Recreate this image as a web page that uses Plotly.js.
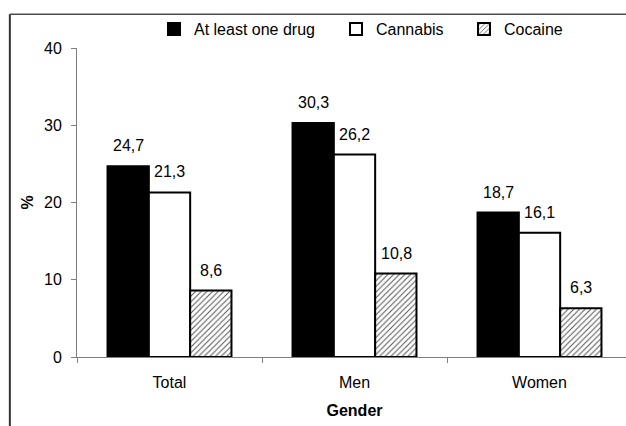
<!DOCTYPE html>
<html>
<head>
<meta charset="utf-8">
<script src="https://cdn.plot.ly/plotly-3.0.1.min.js"></script>
<style>
html,body{margin:0;padding:0;overflow:hidden;background:#fff;}
#chart{width:660px;height:426px;}
</style>
</head>
<body>
<div id="chart"></div>
<script>
var categories = ["Total", "Men", "Women"];
var seriesNames = ["At least one drug", "Cannabis", "Cocaine"];
var atLeastOne = [24.7, 30.3, 18.7];
var cannabis = [21.3, 26.2, 16.1];
var cocaine = [8.6, 10.8, 6.3];
var yTicks = [0, 10, 20, 30, 40];

var FONT = "Liberation Sans, Arial, sans-serif";
var values = [atLeastOne, cannabis, cocaine];
var fills = ["#000000", "#ffffff", "#ffffff"];
var legendIds = ["legend", "legend2", "legend3"];

var traces = values.map(function (v, i) {
  var m = {color: fills[i], line: {color: "#000000", width: 2}};
  if (i === 2) {
    m.pattern = {shape: "/", fgcolor: "#555555", bgcolor: "#ffffff", size: 4, solidity: 0.25, fillmode: "replace"};
  }
  return {
    type: "bar",
    name: seriesNames[i],
    x: categories,
    y: v,
    marker: m,
    legend: legendIds[i],
    hoverinfo: "skip"
  };
});

var shiftPx = [-41.5, 0, 41.5];
var annotations = [];
values.forEach(function (v, i) {
  v.forEach(function (val, j) {
    annotations.push({
      x: categories[j], y: val, xref: "x", yref: "y",
      text: String(val).replace(".", ","),
      showarrow: false, xshift: shiftPx[i], yshift: 10,
      yanchor: "bottom",
      font: {family: FONT, size: 16, color: "#000"}
    });
  });
});

function legendAt(x) {
  return {orientation: "h", x: x, xanchor: "left", y: 1.061, yanchor: "middle",
    font: {family: FONT, size: 16, color: "#000"}, bgcolor: "rgba(0,0,0,0)", borderwidth: 0};
}

var layout = {
  width: 660, height: 426,
  margin: {l: 77, r: 28, t: 48, b: 69},
  paper_bgcolor: "#fff", plot_bgcolor: "#fff",
  font: {family: FONT, size: 16, color: "#000"},
  barmode: "group", bargap: 0.33, bargroupgap: 0,
  showlegend: true,
  legend: legendAt(0.1387),
  legend2: legendAt(0.4667),
  legend3: legendAt(0.6973),
  xaxis: {
    type: "category", range: [-0.5, 2.5],
    showline: true, linecolor: "#7f7f7f", linewidth: 1,
    ticks: "outside", tickson: "boundaries", ticklen: 5, tickcolor: "#7f7f7f",
    showgrid: false, zeroline: false,
    tickfont: {family: FONT, size: 16, color: "#000"},
    ticklabelstandoff: 11,
    title: {text: "<b>Gender</b>", font: {family: FONT, size: 16, color: "#000"}, standoff: 14}
  },
  yaxis: {
    range: [0, 40], tickvals: yTicks,
    showline: true, linecolor: "#7f7f7f", linewidth: 1,
    ticks: "outside", ticklen: 5, tickcolor: "#7f7f7f",
    showgrid: false, zeroline: false,
    tickfont: {family: FONT, size: 16, color: "#000"},
    ticklabelstandoff: 6,
    title: {text: "<b>%</b>", font: {family: FONT, size: 16, color: "#000"}, standoff: 6}
  },
  annotations: annotations,
  shapes: [
    {type: "line", xref: "paper", yref: "paper", x0: -0.121, x1: 1.2, y0: 1.109, y1: 1.109,
      line: {color: "#4d4d4d", width: 1.5}},
    {type: "line", xref: "paper", yref: "paper", x0: -0.121, x1: -0.121, y0: 1.109, y1: -0.3,
      line: {color: "#333333", width: 2}}
  ]
};

Plotly.newPlot("chart", traces, layout, {displayModeBar: false, staticPlot: true});
</script>
</body>
</html>
